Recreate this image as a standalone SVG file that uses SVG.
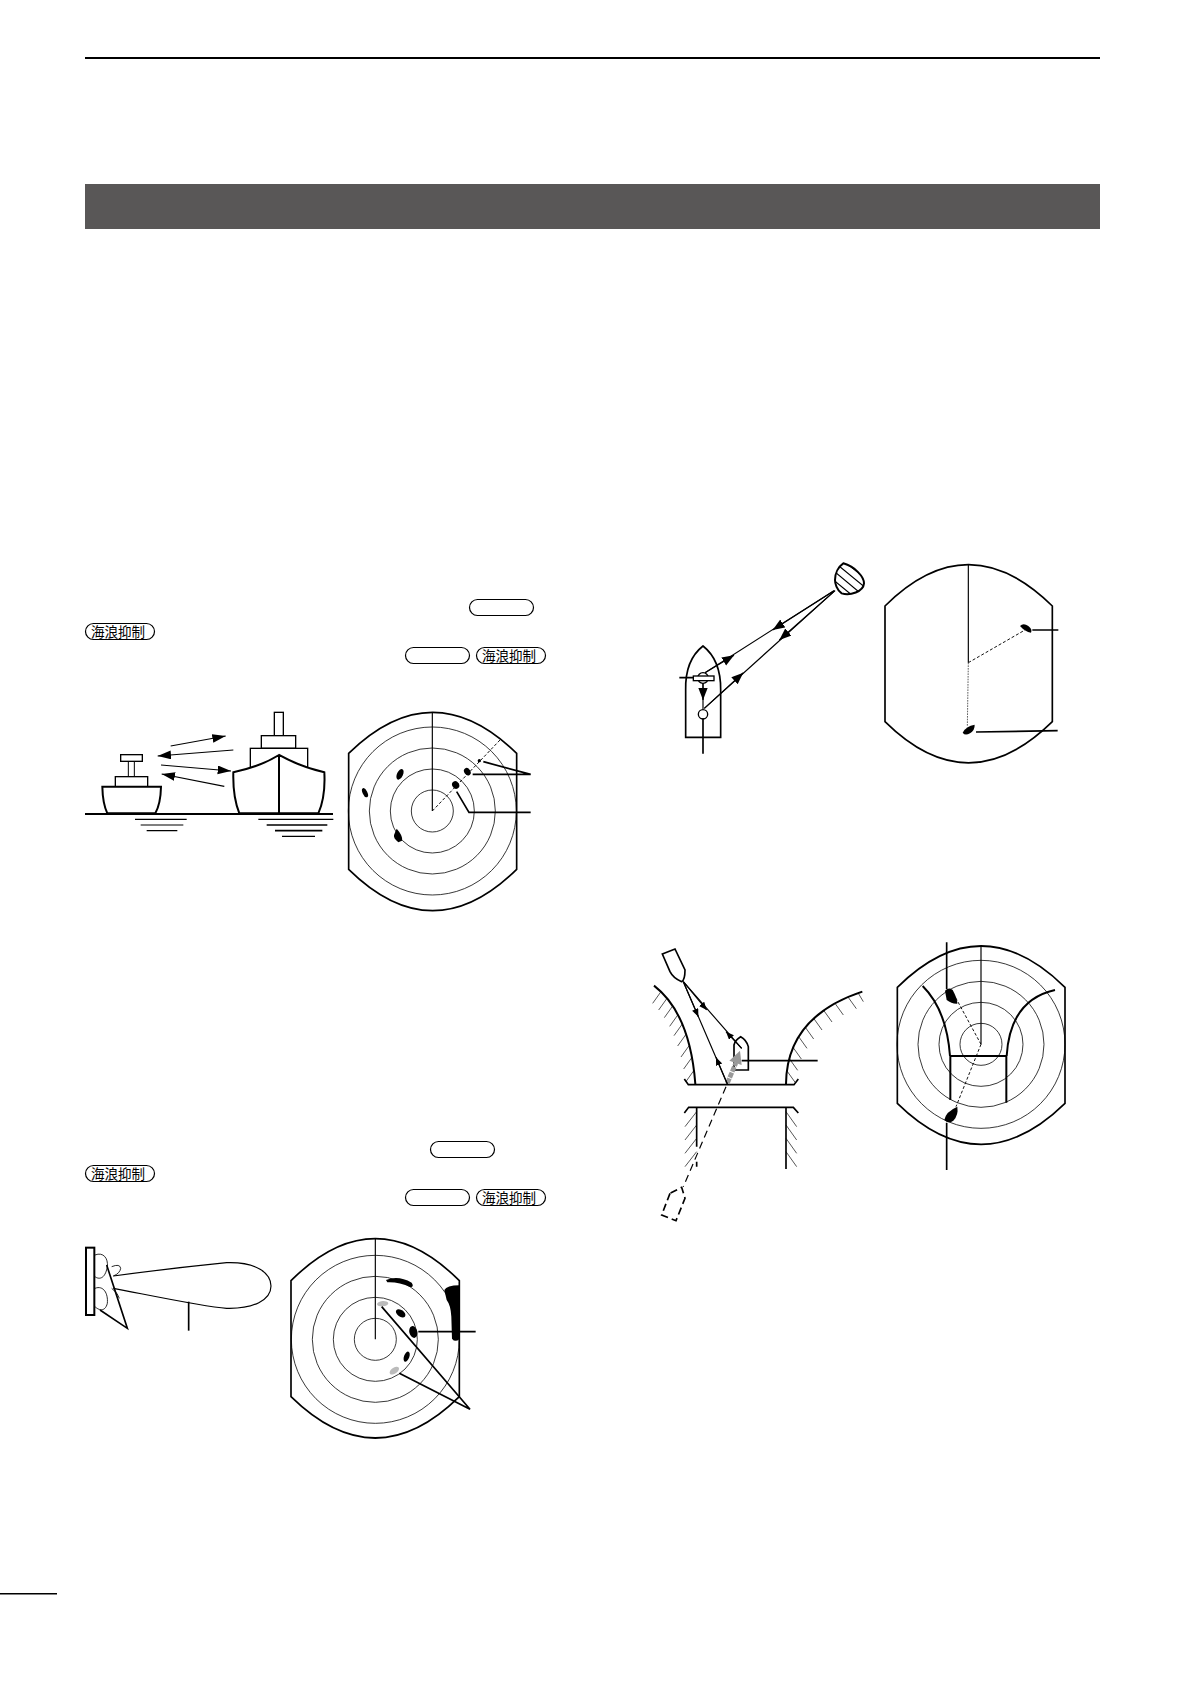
<svg xmlns="http://www.w3.org/2000/svg" width="1191" height="1684" viewBox="0 0 1191 1684">
<style>
.ln{fill:none;stroke:#000;stroke-width:6}
.th{fill:none;stroke:#000;stroke-width:3.5}
.fr{fill:#fff;stroke:#000;stroke-width:4}
.ring{fill:none;stroke:#111;stroke-width:2.5}
.bd{fill:none;stroke:#000;stroke-width:5}
.dash{fill:none;stroke:#000;stroke-width:2.8;stroke-dasharray:9 6}
.blob{fill:#000;stroke:none}
.grey{fill:#bbb;stroke:none}
.pill{fill:#fff;stroke:#000;stroke-width:1.2}
.pt{font-family:"Noto Sans CJK JP","Noto Sans CJK SC",sans-serif;font-size:13.5px;fill:#000;text-anchor:middle}
.tick{fill:none;stroke:#000;stroke-width:2}
</style>
<defs>
<marker id="big" markerUnits="userSpaceOnUse" markerWidth="44" markerHeight="28" refX="40" refY="13" orient="auto"><path d="M0,0L40,13L0,26Z"/></marker>
<marker id="mid" markerUnits="userSpaceOnUse" markerWidth="40" markerHeight="30" refX="36" refY="14" orient="auto"><path d="M0,0L36,14L0,28Z"/></marker>
<marker id="sm" markerUnits="userSpaceOnUse" markerWidth="28" markerHeight="22" refX="24" refY="10" orient="auto"><path d="M0,0L24,10L0,20Z"/></marker>
</defs>
<g id="page">
<rect x="85" y="57" width="1015" height="2"/>
<rect x="85" y="184" width="1015" height="45" fill="#595757"/>
<rect x="0" y="1593" width="57" height="1.500"/>
</g>
<g id="pills">
<rect class="pill" x="469.5" y="599.5" width="64" height="16" rx="8"/>
<rect class="pill" x="85.500" y="623.500" width="69" height="16" rx="8"/><text class="pt" x="118" y="636.500">海浪抑制</text>
<rect class="pill" x="405.500" y="647.500" width="64" height="16" rx="8"/>
<rect class="pill" x="476.500" y="647.500" width="69" height="16" rx="8"/><text class="pt" x="509" y="660.500">海浪抑制</text>
<rect class="pill" x="430.500" y="1141.500" width="64" height="16" rx="8"/>
<rect class="pill" x="85.500" y="1165.500" width="69" height="16" rx="8"/><text class="pt" x="118" y="1178.500">海浪抑制</text>
<rect class="pill" x="405.500" y="1189.500" width="64" height="16" rx="8"/>
<rect class="pill" x="476.500" y="1189.500" width="69" height="16" rx="8"/><text class="pt" x="509" y="1202.500">海浪抑制</text>
</g>
<g id="scene1" transform="translate(70 590) scale(.33333)">
<g id="small-ship">
<rect class="fr" x="175" y="514" width="18" height="46" style="stroke-width:3"/>
<rect class="fr" x="152" y="494" width="65" height="20"/>
<rect class="fr" x="136" y="560" width="97" height="30"/>
<path d="M97,590H273Q272,640 256,670H112Q98,640 97,590Z" class="fr" style="stroke-width:6"/>
</g>
<g id="big-ship">
<rect class="fr" x="613" y="367" width="27" height="70"/>
<rect class="fr" x="574" y="437" width="103" height="38"/>
<rect class="fr" x="541" y="475" width="172" height="70"/>
<path d="M490,547Q570,530 627,495Q690,530 763,547Q767,620 745,670H508Q488,620 490,547Z" class="fr" style="stroke-width:6"/>
<path d="M627,495V670" class="ln"/>
</g>
<path d="M45,672H789" class="ln"/>
<path d="M195,688H350M212,705H340M230,722H322" class="th"/>
<path d="M565,688H790M636,739H735" class="th"/>
<path d="M590,705H772M615,722H757" class="ln" style="stroke-width:5"/>
<g id="conn1">
<path d="M302,468L467,438" marker-end="url(#big)" class="th"/>
<path d="M490,480L263,498" marker-end="url(#big)" class="th"/>
<path d="M273,525L483,543" marker-end="url(#big)" class="th"/>
<path d="M463,589L275,552" marker-end="url(#big)" class="th"/>
</g>
<g id="radar1">
<circle class="ring" cx="1087" cy="663" r="63"/><circle class="ring" cx="1087" cy="663" r="126"/><circle class="ring" cx="1087" cy="663" r="189"/><circle class="ring" cx="1087" cy="663" r="252"/>
<path class="bd" d="M836,490Q1088,244 1340,490V838Q1088,1086 836,838Z"/>
<path class="th" d="M1087,663V367"/>
<path class="dash" d="M1087,663L1290,450"/>
<ellipse class="blob" cx="990" cy="553" rx="9" ry="17" transform="rotate(25 990 553)"/>
<ellipse class="blob" cx="885" cy="608" rx="7" ry="15" transform="rotate(-25 885 608)"/>
<path class="blob" d="M980,716Q1000,738 996,752L985,757Q970,745 972,735Z"/>
<ellipse class="blob" cx="1192" cy="545" rx="9" ry="12" transform="rotate(-35 1192 545)"/>
<ellipse class="blob" cx="1157" cy="585" rx="10" ry="12" transform="rotate(-35 1157 585)"/>
<circle class="blob" cx="1228" cy="512" r="5"/>
<path class="ln" style="stroke-width:5" d="M1240,515L1382,553H1208"/>
<path class="ln" style="stroke-width:5" d="M1160,605L1197,667H1382"/>
</g>
</g>
<g id="scene2" transform="translate(70 1130) scale(.33333)">
<g id="antenna">
<rect x="48" y="353" width="25" height="202" fill="#fff" stroke="#000" stroke-width="6"/>
<path class="th" style="stroke-width:2.5" d="M75,375C100,365 115,385 112,410C105,450 85,448 75,440M75,475C100,465 115,490 112,520C105,548 85,540 75,530M125,410Q150,400 152,415Q150,430 130,438M125,475Q145,490 148,505"/>
<path class="th" d="M130,438Q300,415 470,398C560,395 603,430 603,468C603,510 550,537 470,535C400,530 260,500 130,475"/>
<path class="ln" style="stroke-width:5" d="M110,405L172,595L90,540"/>
<path class="ln" style="stroke-width:5" d="M356,515V602"/>
</g>
<g id="radar2">
<circle class="ring" cx="916" cy="628" r="63"/><circle class="ring" cx="916" cy="628" r="126"/><circle class="ring" cx="916" cy="628" r="189"/><circle class="ring" cx="916" cy="628" r="252"/>
<path class="bd" d="M663,452Q916,200 1168,452V800Q916,1048 663,800Z"/>
<path class="th" d="M916,628V326"/>
<path class="blob" d="M948,450Q985,435 1025,458Q1033,470 1022,472Q985,455 952,457Z"/>
<path class="blob" d="M1123,480Q1130,466 1168,466V628Q1155,638 1146,626L1144,560Q1142,525 1130,510Z"/>
<ellipse class="grey" cx="938" cy="521" rx="17" ry="8" transform="rotate(-5 938 521)"/>
<ellipse class="grey" cx="973" cy="722" rx="16" ry="9" transform="rotate(-35 973 722)"/>
<ellipse class="blob" cx="992" cy="550" rx="16" ry="10" transform="rotate(35 992 550)"/>
<ellipse class="blob" cx="1030" cy="606" rx="12" ry="18" transform="rotate(-15 1030 606)"/>
<ellipse class="blob" cx="1010" cy="680" rx="8" ry="16" transform="rotate(20 1010 680)"/>
<path class="ln" style="stroke-width:5" d="M1045,605H1217"/>
<path class="ln" style="stroke-width:5" d="M935,530L1200,838L988,730"/>
</g>
</g>
<g id="scene3" transform="translate(660 550) scale(.33333)">
<g id="target3">
<clipPath id="tc"><path d="M550,40C585,50 612,80 612,100C610,125 570,138 545,130C530,120 525,100 525,90C525,70 535,50 550,40Z"/></clipPath>
<path d="M520,62L620,145M520,90L600,155M520,34L625,120M540,25L630,95" class="th" clip-path="url(#tc)"/>
<path class="ln" d="M550,40C585,50 612,80 612,100C610,125 570,138 545,130C530,120 525,100 525,90C525,70 535,50 550,40Z"/>
</g>
<g id="ship3">
<path class="fr" style="stroke-width:5" d="M77,562V420Q75,330 129,288Q183,330 182,420V562Z"/>
<circle class="fr" cx="129" cy="384" r="16"/>
<rect class="fr" x="100" y="378" width="62" height="14"/>
<circle class="fr" cx="129" cy="493" r="14"/>
<path class="ln" style="stroke-width:5" d="M58,383H100M129,505V611"/>
</g>
<g id="conn3">
<path class="th" d="M135,368L522,122M133,475L525,122M129,400V478"/>
<path class="th" d="M135,368L222,316" marker-end="url(#mid)"/>
<path class="th" d="M522,122L338,240" marker-end="url(#mid)"/>
<path class="th" d="M133,475L250,368" marker-end="url(#mid)"/>
<path class="th" d="M525,122L358,270" marker-end="url(#mid)"/>
<path class="th" d="M129,400V450" marker-end="url(#mid)"/>
</g>
<g id="radar3">
<path class="bd" d="M675,168Q925,-80 1177,168V515Q925,762 675,515Z"/>
<path class="th" d="M925,338V43"/>
<path class="dash" d="M925,338L1095,240"/>
<path class="dash" style="stroke:#555;stroke-dasharray:5 3" d="M925,338L922,530"/>
<path class="blob" d="M1080,228Q1090,218 1105,228Q1118,238 1113,248Q1095,245 1080,228Z"/>
<path class="blob" d="M908,548Q918,528 944,524Q945,540 930,550Q915,558 908,548Z"/>
<path class="ln" style="stroke-width:5" d="M1117,240H1195M948,546L1193,542"/>
</g>
</g>
<g id="scene4" transform="translate(640 930) scale(.33333)">
<path class="ln" style="stroke-width:5" d="M67,72L105,57L135,120Q135,150 125,155Q100,145 90,125Z"/>
<path class="ln" d="M42,167Q150,250 166,462"/>
<path class="ln" d="M438,462Q440,260 667,185"/>
<path class="tick" d="M63,185l-25,35M81,205l-25,35M98,228l-25,35M114,254l-25,35M127,282l-25,35M138,313l-25,35M148,346l-25,35M156,382l-25,35M162,421l-25,35"/>
<path class="tick" d="M441,423l25,35M448,386l25,35M459,352l25,35M476,320l25,35M496,292l25,35M521,265l25,35M551,241l25,35M585,220l25,35M624,201l25,35M655,190l15,25"/>
<path class="ln" style="stroke-width:5" d="M133,447L145,464H462L475,447"/>
<path class="ln" style="stroke-width:5" d="M133,549L146,532H460L475,549"/>
<path class="ln" style="stroke-width:5" d="M170,532V650M170,695V710M438,532V717"/>
<path class="tick" d="M170,545l-35,45M170,585l-35,45M170,625l-35,45M170,665l-35,45M438,545l32,45M438,585l32,45M438,625l32,45M438,665l32,45"/>
<path class="fr" style="stroke-width:5" d="M282,420V345Q285,330 302,320Q320,330 325,350V420Z"/>
<path class="ln" style="stroke-width:5" d="M305,392H533"/>
<path class="dash" style="stroke:#999;stroke-width:14;stroke-dasharray:16 3" d="M262,460L288,398"/>
<path d="M300,362L305,405L268,392Z" fill="#999"/>
<path class="dash" style="stroke-width:3.5;stroke-dasharray:22 14" d="M258,470L130,770"/>
<path class="dash" style="stroke-width:5;stroke-dasharray:22 12" d="M90,790L65,855L108,872L135,805L125,772L90,790"/>
<g id="conn4">
<path class="th" d="M130,155L305,355M130,155L262,462"/>
<path class="th" d="M130,155L200,240" marker-end="url(#sm)"/>
<path class="th" d="M305,355L258,305" marker-end="url(#sm)"/>
<path class="th" d="M130,155L175,260" marker-end="url(#sm)"/>
<path class="th" d="M262,462L228,382" marker-end="url(#sm)"/>
</g>
</g>
<g id="scene5" transform="translate(880 930) scale(.33333)">
<circle class="ring" cx="303" cy="343" r="63"/><circle class="ring" cx="303" cy="343" r="126"/><circle class="ring" cx="303" cy="343" r="189"/><circle class="ring" cx="303" cy="343" r="252"/>
<path class="bd" d="M52,172Q303,-76 555,172V520Q303,766 52,520Z"/>
<path class="th" d="M303,343V48"/>
<path class="ln" d="M128,168Q200,240 210,378M525,180Q390,210 380,378"/>
<path class="ln" d="M210,378H380M211,378V510M379,378V518"/>
<path class="dash" d="M303,343L228,205M303,343L228,530"/>
<path class="blob" d="M195,182Q208,170 218,180Q232,205 232,221Q215,222 200,210Z"/>
<path class="blob" d="M193,570Q197,545 232,530Q236,555 220,572Q205,582 193,570Z"/>
<path class="ln" style="stroke-width:5" d="M200,37V178M200,578V720"/>
</g>
</svg>
